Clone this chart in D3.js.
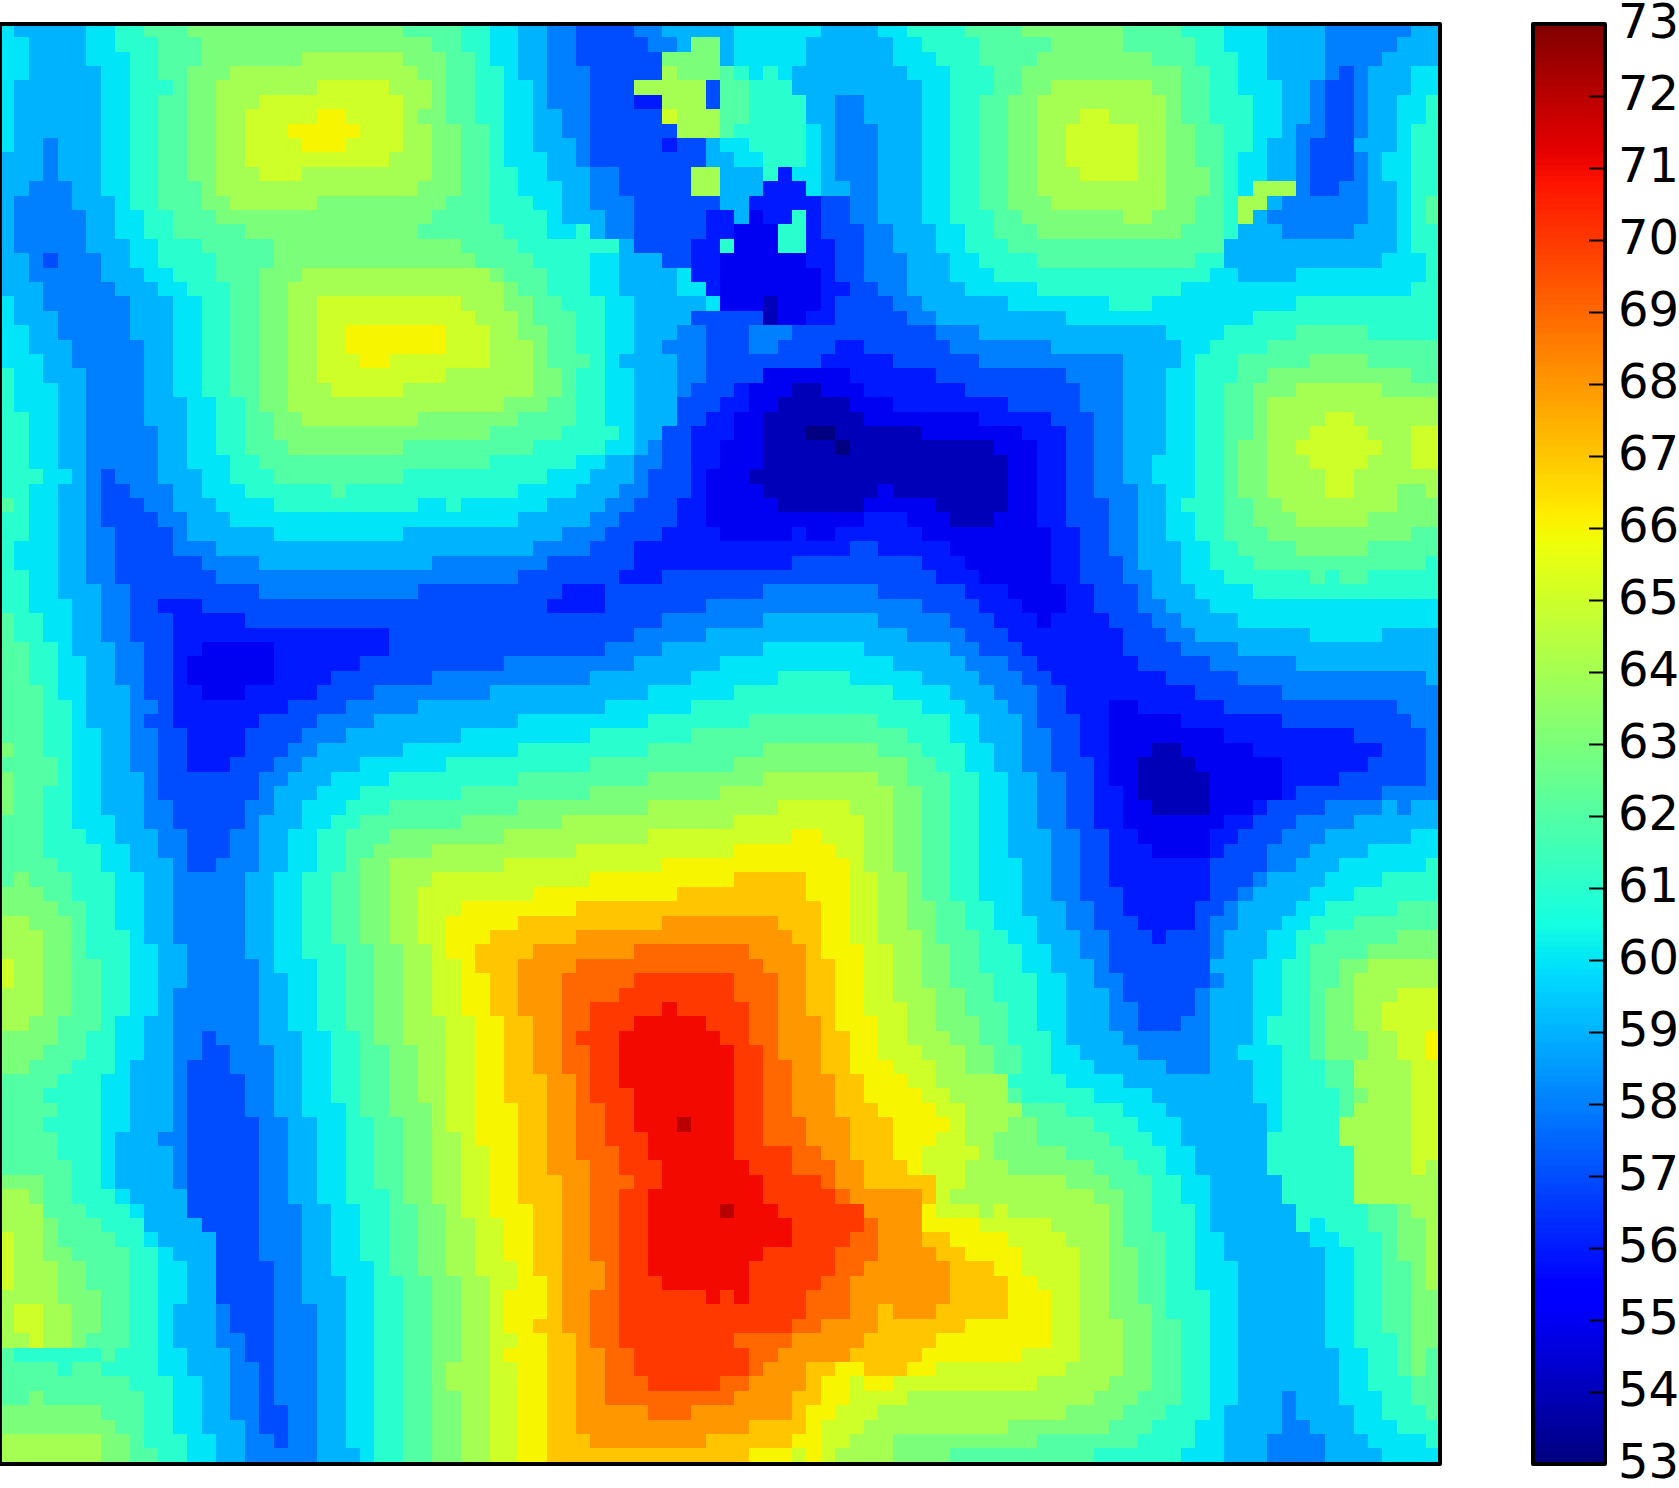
<!DOCTYPE html>
<html>
<head>
<meta charset="utf-8">
<script src="https://cdn.jsdelivr.net/npm/d3@7"></script>
<style>
  html, body { margin: 0; padding: 0; background: #fff; overflow: hidden; }
  svg { display: block; }
  .tick text { font-family: "DejaVu Sans"; font-size: 48px; fill: #000; }
</style>
</head>
<body>
<div id="chart"></div>
<script>
// grid values, one row per line: value, column where the run stops, value, column...
const rowRuns = [
[60,1,59,6,60,8,61,10,62,13,63,28,62,32,61,33,61,34,60,36,59,38,58,40,57,44,58,46,59,51,60,57,59,61,60,63,61,66,61,67,62,71,63,78,62,82,61,85,60,88,59,92,58,98,59,100],
[60,2,59,6,60,8,61,11,62,14,63,30,62,32,61,33,61,34,60,36,59,38,58,40,57,45,58,47,59,48,63,50,59,51,60,56,59,62,60,64,61,66,61,68,62,73,63,78,62,83,61,85,60,88,59,92,58,97,59,100],
[60,2,59,6,60,9,61,11,62,14,63,21,64,28,63,31,62,33,61,34,60,36,59,38,58,40,57,46,63,50,59,51,60,56,59,62,60,65,61,66,61,68,62,72,63,80,62,83,61,86,60,88,59,92,58,96,59,100],
[60,2,59,7,60,9,61,11,62,13,63,16,64,29,63,31,62,33,61,35,60,36,59,38,58,41,57,46,64,47,63,50,62,51,61,52,60,53,61,54,60,55,59,63,60,66,61,69,62,71,63,82,62,84,61,86,60,88,59,92,58,93,57,94,58,95,59,98,60,100],
[60,1,59,7,60,9,61,12,62,13,63,15,64,22,65,27,64,30,63,31,62,33,61,35,60,37,59,38,58,41,57,44,64,49,57,50,62,52,61,55,59,64,60,66,61,69,62,71,63,73,64,80,63,82,62,84,61,86,60,89,59,91,58,92,57,94,58,95,59,98,60,100],
[60,1,59,7,60,9,61,11,62,13,63,15,64,18,65,28,64,30,63,31,62,33,61,35,60,37,59,38,58,41,57,44,56,46,64,49,57,50,62,52,61,56,59,58,58,60,59,64,60,66,61,68,62,70,63,72,64,81,63,82,62,84,61,87,60,89,59,91,58,92,57,94,58,95,59,97,60,99,61,100],
[60,1,59,7,60,9,61,11,62,13,63,15,64,17,65,22,66,24,65,28,64,29,63,31,62,33,61,35,60,37,59,39,58,41,57,46,65,47,64,50,62,52,61,56,59,58,58,60,59,64,60,66,61,68,62,70,63,72,64,75,65,77,64,81,63,82,62,84,61,87,60,89,59,91,58,92,57,94,58,95,59,97,60,99,61,100],
[60,1,59,7,60,9,61,11,62,13,63,15,64,17,65,20,66,25,65,28,64,30,63,32,62,33,62,34,61,35,60,37,59,39,58,41,57,47,64,50,62,51,61,56,60,57,59,58,58,61,59,64,60,66,61,68,62,70,63,72,64,74,65,79,64,81,63,83,62,85,61,87,60,89,59,90,58,92,57,94,58,95,59,97,60,98,61,100],
[60,1,59,3,58,4,59,7,60,9,61,11,62,13,63,15,64,17,65,21,66,24,65,28,64,30,63,32,62,33,62,34,61,35,60,37,59,40,58,41,57,46,56,47,57,49,59,50,60,52,61,56,60,57,59,58,58,61,59,64,60,66,61,68,62,70,63,72,64,74,65,79,64,81,63,83,62,85,61,87,60,88,59,90,58,91,57,94,59,97,60,98,61,100],
[59,3,58,4,59,7,60,9,61,11,62,13,63,15,64,17,65,27,64,30,63,32,62,33,62,34,61,35,60,38,59,40,58,41,57,49,59,51,60,53,61,56,60,57,59,58,58,61,59,64,60,66,61,68,62,70,63,72,64,74,65,79,64,81,63,83,62,85,61,86,60,88,59,90,58,91,57,94,58,95,59,96,60,98,61,100],
[59,3,58,4,59,7,60,9,61,11,62,13,63,15,64,18,65,21,64,30,63,32,62,33,62,34,61,36,60,38,59,41,58,43,57,48,64,50,59,53,61,54,56,55,60,57,59,58,58,61,59,64,60,66,61,68,62,70,63,72,64,75,65,79,64,81,63,84,62,85,61,86,60,88,59,90,58,91,57,94,58,95,59,96,60,98,61,100],
[59,2,58,5,59,7,60,9,61,11,62,14,63,15,64,29,63,32,62,33,62,34,61,36,60,39,59,41,58,43,57,48,64,50,59,53,56,56,60,57,59,59,58,61,59,64,60,66,61,68,62,70,63,72,64,81,63,84,62,85,61,86,60,87,64,90,58,91,57,93,58,95,59,97,60,98,61,100],
[59,1,58,5,59,8,60,9,61,11,62,14,63,16,64,22,63,31,62,33,62,34,61,37,60,39,59,41,58,44,57,50,59,52,56,57,57,59,58,61,59,64,60,66,61,68,62,70,63,73,64,81,63,83,62,85,61,86,64,88,59,89,58,95,59,97,60,98,61,99,62,100],
[59,1,58,6,59,8,60,10,61,12,62,15,63,30,62,33,62,34,61,38,60,39,59,42,58,44,57,49,56,51,59,52,55,53,56,55,61,56,56,57,57,59,58,61,59,64,60,66,61,69,62,71,63,78,64,80,63,83,62,85,61,86,64,87,59,88,58,95,59,97,60,98,61,99,62,100],
[59,1,58,6,59,8,60,10,61,12,62,17,63,29,62,33,62,35,61,38,60,40,61,41,59,42,58,44,57,49,56,51,55,54,61,56,56,57,57,60,58,62,59,65,60,66,60,67,61,69,62,72,63,82,62,85,61,86,59,89,58,94,59,97,60,98,61,100],
[59,1,58,6,59,9,60,11,61,14,62,19,63,32,62,33,62,36,61,43,59,44,57,48,56,50,61,51,55,54,61,56,56,58,57,60,58,62,59,65,60,66,60,67,61,70,62,85,59,97,60,98,61,100],
[59,2,58,3,57,4,58,7,59,9,60,11,61,15,62,19,63,33,62,37,61,41,60,43,59,46,57,48,56,50,55,56,56,58,57,60,58,63,59,66,60,68,61,72,62,83,61,85,59,96,60,99,61,100],
[59,2,58,7,59,10,60,12,61,15,62,18,63,21,64,33,64,34,63,35,62,38,61,41,60,43,59,47,60,48,56,50,55,57,56,58,57,60,58,63,59,66,60,69,61,84,60,86,59,90,60,99,61,100],
[59,3,58,8,59,11,60,13,61,16,62,18,63,20,64,33,64,35,63,36,62,38,61,41,60,43,59,47,60,49,56,50,55,57,56,59,57,61,58,63,59,66,59,67,60,72,61,82,60,98,61,100],
[60,1,59,3,58,9,59,12,60,14,61,16,62,18,63,20,64,22,65,32,64,33,64,35,63,37,62,39,61,42,60,44,59,49,60,50,55,53,54,54,55,57,56,58,57,62,58,64,59,66,59,70,60,77,61,80,60,90,61,100],
[60,1,59,4,58,9,59,12,60,14,61,16,62,18,63,20,64,22,65,33,64,36,63,37,62,40,61,42,60,44,59,48,57,53,54,54,55,56,56,58,57,63,58,65,59,66,59,74,60,87,61,100],
[60,2,59,4,58,9,59,12,60,14,61,16,62,18,63,20,64,22,65,24,66,31,65,33,65,34,64,36,63,38,62,40,61,42,60,44,59,47,58,49,57,52,58,55,57,65,58,66,58,68,59,81,60,85,61,90,62,95,61,100],
[60,2,59,5,58,10,59,12,60,14,61,16,62,18,63,20,64,22,65,24,66,31,65,33,65,34,64,37,63,38,62,40,61,42,60,44,59,46,58,49,57,52,58,54,57,58,56,60,57,66,58,73,59,82,60,84,61,88,62,100],
[60,3,59,5,58,10,59,12,60,14,61,16,62,18,63,20,64,22,65,25,66,27,65,33,65,34,64,37,63,38,62,41,61,42,60,43,59,47,58,49,57,57,56,62,57,66,57,68,58,78,59,82,60,83,61,86,62,91,63,95,62,100],
[61,1,60,3,59,6,58,10,59,12,60,14,61,16,62,18,63,20,64,22,65,31,64,33,64,37,63,39,62,40,61,42,60,44,59,47,58,49,57,53,55,59,56,65,57,66,57,74,58,78,59,81,60,83,61,86,62,88,63,98,62,100],
[61,1,60,4,59,6,58,10,59,12,60,14,61,16,62,18,63,20,64,23,65,28,64,33,64,37,63,39,62,40,61,42,60,44,59,47,58,48,57,51,56,52,55,55,54,57,55,60,56,66,56,67,57,75,58,78,59,81,60,83,61,85,62,87,63,90,64,96,63,100],
[61,1,60,4,59,6,58,10,59,13,60,15,61,17,62,18,63,20,64,33,64,35,63,38,62,40,61,42,60,44,59,47,57,50,56,52,55,54,54,59,55,62,56,66,56,70,57,75,58,78,59,81,60,83,61,85,62,87,63,88,64,100],
[61,2,60,4,59,6,58,10,59,13,60,15,61,17,62,19,63,21,64,29,63,33,63,36,62,40,61,42,60,44,59,47,57,49,56,51,55,53,54,60,55,66,55,68,56,73,57,76,58,78,59,81,60,83,61,85,62,87,63,88,64,92,65,94,64,100],
[61,2,60,4,59,6,58,11,59,13,60,15,61,17,62,19,63,33,63,34,62,39,61,43,60,44,59,46,57,48,56,51,55,53,54,56,53,58,54,64,55,66,55,71,56,74,57,76,58,78,59,81,60,83,61,85,62,87,63,88,64,91,65,95,64,98,65,100],
[61,2,60,4,59,6,58,11,59,13,60,15,61,17,62,20,63,28,62,33,62,37,61,42,60,44,59,45,58,46,57,48,56,50,55,53,54,58,53,59,54,66,54,69,55,72,56,74,57,76,58,78,59,81,60,83,61,85,62,86,63,88,64,90,65,96,64,98,65,100],
[61,2,60,4,59,6,58,11,59,13,60,16,61,18,62,33,62,34,61,40,60,42,59,44,58,46,57,48,56,50,55,53,54,66,54,70,55,72,56,74,57,76,58,78,59,80,60,83,61,85,62,86,63,88,64,91,65,95,64,98,65,100],
[61,3,60,5,59,6,58,7,57,8,58,11,59,14,60,16,61,19,62,28,61,33,61,38,60,41,59,44,58,45,57,48,56,49,55,52,54,66,54,70,55,72,56,74,57,76,58,78,59,80,60,83,61,85,62,86,63,88,64,92,65,94,64,100],
[61,2,60,4,59,6,58,7,57,9,58,12,59,14,60,17,61,23,62,24,61,33,61,36,60,40,59,43,58,45,57,48,56,49,55,53,54,61,55,62,54,66,54,70,55,72,56,74,57,76,58,79,59,81,60,83,61,85,62,86,63,88,64,92,65,94,64,97,63,99,64,100],
[62,1,61,2,60,4,59,6,58,7,57,10,58,12,59,15,60,19,61,29,60,31,61,32,60,33,60,38,59,42,58,44,57,47,56,49,55,54,54,60,55,65,54,66,54,70,55,72,56,74,57,77,58,79,59,81,60,82,61,85,62,87,63,89,64,97,63,100],
[61,2,60,4,59,6,58,7,57,11,58,13,59,16,60,33,60,36,59,41,58,43,57,47,56,49,55,60,56,63,55,66,54,69,55,72,56,74,57,77,58,79,59,81,60,83,61,85,62,87,63,90,64,95,63,100],
[61,2,60,4,59,6,58,8,57,12,58,13,59,19,60,28,59,33,59,39,58,42,57,46,56,50,55,55,56,56,55,58,56,64,55,66,55,73,56,75,57,77,58,79,59,81,60,83,61,85,62,88,63,98,62,100],
[61,1,60,4,59,6,58,8,57,12,58,15,59,33,59,37,58,41,57,44,56,59,57,61,56,66,55,73,56,75,57,77,58,79,59,82,60,84,61,86,62,90,63,95,62,100],
[61,1,60,4,59,6,58,8,57,14,58,18,59,30,58,33,58,38,57,44,56,55,57,64,56,66,56,67,55,73,56,75,57,78,58,79,59,82,60,84,61,87,62,99,61,100],
[61,2,60,4,59,6,58,8,57,15,58,33,58,36,57,43,56,46,57,65,56,66,56,68,55,73,56,75,57,78,58,80,59,82,60,85,61,91,62,92,61,93,62,95,61,100],
[61,2,60,4,59,7,58,9,57,18,58,29,57,33,57,39,56,42,57,53,58,61,57,66,57,67,56,70,55,74,56,76,57,79,58,80,59,83,60,87,61,100],
[61,2,60,5,59,7,58,9,57,11,56,14,57,33,57,38,56,42,57,49,58,64,57,66,57,68,56,71,55,74,56,76,57,79,58,81,59,84,60,100],
[62,1,61,3,60,5,59,7,58,9,57,12,56,17,57,33,57,46,58,53,59,61,58,66,57,69,56,72,55,73,56,77,57,80,58,82,59,86,60,100],
[62,1,61,3,60,5,59,7,58,9,57,12,56,27,57,33,57,44,58,49,59,63,58,66,58,67,57,70,56,78,57,81,58,83,59,91,60,96,59,100],
[62,2,61,4,60,5,59,8,58,10,57,12,56,14,55,19,56,27,57,33,57,42,58,46,59,53,60,60,59,66,58,68,57,71,56,78,57,82,58,86,59,100],
[62,2,61,4,60,6,59,8,58,10,57,12,56,13,55,19,56,25,57,33,57,35,58,44,59,50,60,62,59,66,59,67,58,70,57,72,56,79,57,84,58,90,59,100],
[62,2,61,4,60,6,59,8,58,10,57,12,56,13,55,19,56,23,57,30,58,33,58,41,59,48,60,54,61,59,60,64,59,66,59,68,58,71,57,73,56,81,57,86,58,99,59,100],
[62,3,61,4,60,6,59,9,58,10,57,12,56,14,55,17,56,22,57,26,58,33,58,34,59,45,60,51,61,62,60,66,59,69,58,72,57,74,56,83,57,89,58,100],
[62,3,61,5,60,6,59,9,58,11,57,12,56,20,57,24,58,29,59,33,59,42,60,48,61,64,60,66,60,67,59,70,58,72,57,74,56,77,55,79,56,85,57,97,58,100],
[62,3,61,5,60,6,59,9,58,10,57,12,56,18,57,22,58,26,59,33,59,36,60,45,61,52,62,61,61,66,60,68,59,71,58,72,57,75,56,77,55,82,56,89,57,98,58,100],
[62,3,61,5,60,7,59,9,58,11,57,13,56,17,57,21,58,24,59,32,60,33,60,41,61,48,62,63,61,66,60,68,59,71,58,73,57,75,56,77,55,85,56,94,57,99,58,100],
[63,1,62,3,61,5,60,7,59,9,58,11,57,13,56,17,57,20,58,22,59,28,60,33,60,36,61,45,62,53,63,61,62,64,61,66,61,67,60,69,59,71,58,73,57,75,56,77,55,80,54,82,55,87,56,96,57,99,58,100],
[62,4,61,5,60,7,59,9,58,11,57,13,56,16,57,19,58,21,59,25,60,31,61,33,61,41,62,51,63,63,62,65,61,66,61,67,60,69,59,71,58,73,57,76,56,77,55,79,54,83,55,89,56,95,57,99,58,100],
[63,1,62,4,61,5,60,7,59,10,58,11,57,18,58,20,59,23,60,27,61,33,61,36,62,45,63,53,64,61,63,63,62,66,61,68,60,70,59,72,58,74,57,76,56,77,55,79,54,84,55,89,56,93,57,99,58,100],
[63,1,62,3,61,5,60,7,59,10,58,11,57,18,58,19,59,22,60,25,61,32,62,33,62,41,63,50,64,62,63,64,62,66,61,68,60,70,59,72,58,74,57,76,56,78,55,79,54,84,55,89,56,90,57,96,58,100],
[63,1,62,3,61,5,60,7,59,10,58,12,57,17,58,19,59,21,60,24,61,27,62,33,62,36,63,45,64,54,65,59,64,62,63,64,62,66,61,68,60,70,59,72,58,74,57,76,56,78,55,80,54,84,55,87,56,88,57,92,58,96,59,97,58,98,59,100],
[62,3,61,5,60,8,59,10,58,12,57,17,58,18,59,21,60,23,61,25,62,32,63,33,63,39,64,51,65,60,64,62,63,64,62,66,61,68,60,70,59,72,58,74,57,76,56,78,55,85,56,87,57,90,58,94,59,100],
[62,3,61,6,60,8,59,11,58,13,57,16,58,18,59,20,60,22,61,24,62,27,63,33,63,35,64,45,65,55,66,57,65,60,64,62,63,64,62,66,61,68,60,70,59,73,58,75,57,77,56,79,55,84,56,86,57,89,58,92,59,98,60,100],
[62,3,61,7,60,9,59,11,58,13,57,16,58,18,59,20,60,22,61,24,62,26,63,30,64,33,64,40,65,51,66,58,65,60,64,62,63,64,62,66,61,68,60,70,59,73,58,75,57,77,56,80,55,84,56,85,57,88,58,91,59,95,60,100],
[62,4,61,7,60,9,59,12,58,13,57,15,58,18,59,20,60,22,61,24,62,25,63,27,64,33,64,35,65,46,66,59,65,60,64,62,63,64,62,66,61,68,60,71,59,73,58,75,57,77,56,84,57,88,58,90,59,93,60,99,61,100],
[62,1,63,2,62,5,61,8,60,10,59,12,58,17,59,19,60,21,61,23,62,25,63,27,64,30,65,33,65,41,66,51,67,56,66,59,65,61,64,63,63,64,62,66,61,68,60,71,59,73,58,75,57,77,56,84,57,87,58,88,59,92,60,96,61,100],
[63,3,62,5,61,8,60,10,59,12,58,17,59,19,60,21,61,23,62,25,63,27,64,29,65,33,65,37,66,47,67,56,66,59,65,61,64,63,63,64,62,66,61,68,60,71,59,73,58,75,57,78,56,84,57,86,58,87,59,91,60,94,61,100],
[63,4,62,6,61,8,60,10,59,12,58,17,59,19,60,21,61,23,62,25,63,27,64,29,65,32,66,33,66,40,67,57,66,59,65,61,64,63,63,65,62,66,62,67,61,69,60,71,59,74,58,76,57,78,56,83,57,85,58,86,59,90,60,92,61,97,62,100],
[64,2,63,5,62,6,61,8,60,10,59,12,58,17,59,19,60,21,61,23,62,25,63,27,64,29,65,31,66,33,66,36,67,46,68,54,67,57,66,59,65,61,64,63,63,65,62,66,62,67,61,69,60,72,59,74,58,76,57,79,56,83,57,84,58,86,59,89,60,91,61,94,62,100],
[64,3,63,5,62,6,61,9,60,10,59,12,58,17,59,19,60,21,61,23,62,25,63,27,64,29,65,31,66,33,66,34,67,40,68,55,67,57,66,59,65,61,64,64,63,65,62,66,62,68,61,70,60,72,59,75,58,77,57,80,56,81,57,84,58,85,59,88,60,90,61,92,62,97,63,100],
[64,3,63,5,62,6,61,9,60,11,59,13,58,17,59,19,60,21,61,24,62,26,63,28,64,30,65,31,66,33,67,37,68,44,69,52,68,56,67,57,66,60,65,62,64,64,63,66,62,68,61,71,60,73,59,75,58,77,57,84,58,85,59,88,60,90,61,91,62,95,63,100],
[65,1,64,3,63,5,62,7,61,9,60,11,59,13,58,18,59,19,60,22,61,24,62,26,63,28,64,30,65,32,66,33,67,36,68,40,69,53,68,56,67,58,66,60,65,62,64,64,63,66,62,68,61,71,60,73,59,76,58,77,57,84,59,87,60,89,61,91,62,93,63,95,64,100],
[65,1,64,3,63,5,62,7,61,9,60,11,59,13,58,18,59,20,60,22,61,24,62,26,63,28,64,30,65,32,66,33,66,34,67,36,68,39,69,44,70,51,69,54,68,56,67,58,66,60,65,62,64,64,63,66,62,69,61,72,60,74,59,76,58,78,57,84,58,85,59,87,60,89,61,91,62,93,63,94,64,100],
[64,3,63,5,62,7,61,9,60,11,59,12,58,18,59,20,60,22,61,24,62,26,63,28,64,30,65,32,66,33,66,34,67,36,68,39,69,43,70,51,69,54,68,56,67,58,66,60,65,62,64,65,63,66,63,67,62,69,61,72,60,74,59,77,58,78,57,83,58,84,59,87,60,89,61,91,62,92,63,94,64,97,65,100],
[64,3,63,5,62,7,61,9,60,11,59,12,58,18,59,20,60,22,61,24,62,26,63,28,64,30,65,32,66,33,66,34,67,36,68,39,69,41,70,46,71,47,70,52,69,54,68,56,67,58,66,60,65,63,64,65,63,67,62,70,61,72,60,74,59,77,58,79,57,83,58,84,59,87,60,89,61,91,62,92,63,94,64,96,65,100],
[64,2,63,4,62,7,61,8,60,10,59,12,58,18,59,20,60,22,61,24,62,26,63,28,64,31,65,33,66,35,67,37,68,39,69,41,70,44,71,49,70,52,69,54,68,57,67,58,66,61,65,63,64,65,63,66,63,68,62,70,61,72,60,74,59,77,58,79,57,82,58,84,59,87,60,88,61,91,62,92,63,94,64,96,65,100],
[63,4,62,6,61,8,60,10,59,12,58,14,57,15,58,18,59,21,60,23,61,25,62,26,63,28,64,31,65,33,66,35,67,37,68,39,69,40,70,43,71,50,70,52,69,54,68,57,67,59,66,61,65,63,64,66,63,68,62,70,61,73,60,74,59,78,58,84,59,87,60,88,61,91,62,92,63,95,64,97,65,99,66,100],
[63,3,62,6,61,8,60,10,59,12,58,14,57,16,58,19,59,21,60,23,61,25,62,27,63,29,64,31,65,33,66,35,67,37,68,39,69,41,70,43,71,51,70,53,69,54,68,57,67,59,66,61,65,64,64,66,64,67,63,69,62,71,61,73,60,75,59,79,58,84,59,86,60,89,61,91,62,92,63,95,64,97,65,99,66,100],
[63,2,62,5,61,8,60,9,59,12,58,13,57,16,58,19,59,21,60,23,61,25,62,27,63,29,64,31,65,33,66,35,67,37,68,39,69,41,70,43,71,51,70,53,69,55,68,57,67,59,66,62,65,65,64,66,64,67,63,69,62,71,61,73,60,76,59,81,58,84,59,87,60,89,61,92,62,94,64,98,65,100],
[62,4,61,7,60,9,59,12,58,13,57,17,58,19,59,21,60,23,61,25,62,27,63,29,64,31,65,33,66,35,67,38,68,40,69,41,70,43,71,51,70,53,69,55,68,58,67,60,66,63,65,65,64,66,64,70,61,74,60,78,59,87,60,89,61,92,62,94,64,98,65,100],
[62,3,61,7,60,9,59,12,58,13,57,17,58,19,59,21,60,23,61,25,62,27,63,29,64,31,65,33,66,35,67,38,68,40,69,41,70,44,71,51,70,53,69,55,68,58,67,60,66,64,65,66,64,70,62,71,61,76,60,80,59,87,60,89,61,93,62,94,63,95,64,98,65,100],
[62,4,61,7,60,9,59,12,58,13,57,17,58,19,59,21,60,24,61,25,62,27,63,30,64,31,65,33,66,36,67,38,68,40,69,42,70,44,71,51,70,53,69,55,68,58,67,61,66,65,65,66,65,67,64,71,62,74,61,78,60,81,59,88,60,89,61,93,62,94,64,98,65,100],
[62,3,61,7,60,9,59,12,58,13,57,18,58,20,59,22,60,24,61,26,62,28,63,30,64,31,65,33,66,36,67,38,68,40,69,42,70,44,71,47,72,48,71,51,70,53,69,56,68,59,67,62,66,66,65,67,64,70,63,72,62,76,61,79,60,82,59,88,60,89,61,93,64,98,65,100],
[62,4,61,7,60,8,59,11,58,13,57,18,58,20,59,22,60,24,61,26,62,28,63,30,64,32,65,33,66,36,67,38,68,40,69,42,70,45,71,51,70,53,69,56,68,59,67,62,66,65,65,67,64,69,63,72,62,77,61,80,60,82,59,88,61,93,64,98,65,100],
[62,4,61,7,60,8,59,12,58,13,57,18,58,20,59,22,60,24,61,26,62,28,63,30,64,32,65,33,65,34,66,36,67,38,68,40,69,43,70,45,71,51,70,55,69,57,68,59,67,62,66,64,65,66,65,68,64,69,63,74,62,78,61,81,60,83,59,88,61,94,64,98,65,100],
[62,5,61,7,60,8,59,12,58,13,57,18,58,20,59,22,60,24,61,26,62,28,63,30,64,32,65,33,65,34,66,36,67,38,68,41,69,43,70,46,71,52,70,55,69,58,68,60,67,63,66,64,65,66,65,67,64,70,63,76,62,79,61,81,60,83,59,88,61,94,64,98,65,99,64,100],
[63,3,62,5,61,7,60,8,59,12,58,13,57,18,58,20,59,22,60,24,61,26,62,28,63,30,64,32,65,33,65,34,66,36,67,39,68,41,69,44,70,46,71,53,70,57,69,58,68,60,67,65,65,66,65,67,64,74,63,77,62,80,61,82,60,84,59,89,61,94,64,100],
[64,2,63,3,62,5,61,8,60,9,59,13,57,18,58,20,59,22,60,24,61,27,62,28,63,30,64,32,65,33,65,34,66,36,67,39,68,41,69,43,70,45,71,53,70,58,69,59,68,64,67,65,65,66,64,76,63,78,62,80,61,82,60,84,59,89,61,94,64,100],
[64,3,62,6,61,9,60,10,59,13,57,18,58,21,59,23,60,25,61,27,62,29,63,31,64,32,65,33,65,34,66,37,67,39,68,41,69,43,70,45,71,50,72,51,71,54,70,60,68,64,66,65,65,66,65,68,64,69,65,70,64,77,63,78,62,80,61,83,60,84,59,90,61,95,62,97,63,98,64,100],
[64,3,63,4,62,7,61,10,59,14,57,18,58,21,59,23,60,25,61,27,62,29,63,31,64,33,65,33,65,35,66,37,67,39,68,41,69,43,70,45,71,55,70,60,69,61,68,64,66,66,66,68,65,73,64,77,63,78,62,80,61,83,60,84,59,90,61,91,60,92,61,95,62,97,63,99,64,100],
[65,1,64,3,63,4,62,8,61,10,60,11,59,15,57,18,58,21,59,23,60,25,61,27,62,29,63,31,64,33,65,35,66,37,67,39,68,41,69,43,70,45,71,55,70,59,69,61,68,64,67,66,66,70,65,74,64,77,63,78,62,81,61,83,60,85,59,91,60,93,61,96,62,97,63,99,64,100],
[65,1,64,3,63,5,62,9,61,11,60,12,59,15,57,18,58,21,59,23,60,25,61,27,62,29,63,31,64,33,65,35,66,37,67,39,68,41,69,43,70,45,71,53,70,58,69,61,68,65,67,66,67,67,66,71,65,75,64,77,63,79,62,81,61,83,60,85,59,92,60,94,61,96,62,97,63,99,64,100],
[65,1,64,4,63,6,62,9,61,11,60,13,59,15,57,19,58,21,59,23,60,26,61,27,62,29,63,31,64,33,65,36,66,37,67,39,68,42,69,43,70,45,71,52,70,58,69,60,68,66,67,69,66,71,65,75,64,77,63,79,62,81,61,83,60,86,59,92,60,94,61,96,62,98,63,99,64,100],
[65,1,64,4,63,6,62,9,61,11,60,13,59,15,57,19,58,21,59,24,60,26,61,28,62,30,63,32,64,33,64,34,65,36,66,38,67,39,68,42,69,43,70,46,71,52,70,57,69,59,68,66,67,70,66,72,65,75,64,77,63,79,62,81,61,83,60,86,59,92,60,94,61,96,62,98,63,99,64,100],
[64,4,63,7,62,9,61,11,60,13,59,15,57,19,58,21,59,24,60,26,61,28,62,30,63,32,64,33,64,34,65,35,66,38,67,39,68,41,69,43,70,49,71,50,70,51,71,52,70,56,69,59,68,66,67,70,66,73,65,75,64,77,63,79,62,81,61,84,60,86,59,92,60,94,61,96,62,98,63,100],
[64,1,65,3,64,5,63,7,62,9,61,11,60,12,59,15,58,16,57,19,58,22,59,24,60,26,61,28,62,30,63,32,64,33,64,34,65,35,66,38,67,39,68,41,69,43,70,56,69,59,68,61,67,62,68,65,67,66,67,70,66,73,65,75,64,77,63,80,62,81,61,84,60,86,59,92,60,94,61,96,62,98,63,100],
[64,1,65,3,64,5,63,7,62,9,61,11,60,12,59,15,58,16,57,19,58,22,59,24,60,26,61,28,62,30,63,32,64,33,64,34,65,35,66,37,67,39,68,41,69,43,70,55,69,57,68,61,67,66,67,67,66,73,65,75,64,78,63,80,62,82,61,84,60,86,59,92,60,94,61,96,62,98,63,100],
[64,2,65,3,64,5,63,6,62,9,61,11,60,12,59,15,58,17,57,19,58,22,59,24,60,26,61,28,62,30,63,32,64,33,64,34,65,36,66,38,67,40,68,41,69,43,70,51,69,55,68,60,67,65,66,66,66,73,65,75,64,78,63,80,62,82,61,84,60,86,59,92,60,94,61,97,62,98,63,100],
[62,1,61,7,62,8,61,11,60,13,59,16,58,17,57,19,58,22,59,24,60,26,61,28,62,30,63,32,64,33,64,34,65,35,66,38,67,40,68,42,69,44,70,52,69,54,68,59,67,64,66,66,66,71,65,75,64,78,63,80,62,82,61,84,60,86,59,93,60,95,61,97,62,98,63,99,62,100],
[62,4,61,5,62,7,61,11,60,13,59,16,58,18,57,19,58,22,59,24,60,26,61,28,62,30,63,31,64,33,64,34,65,36,66,38,67,40,68,42,69,44,70,52,69,53,68,56,67,58,66,60,67,63,66,65,65,66,65,74,64,78,63,80,62,82,61,84,60,86,59,93,60,95,61,97,62,98,63,99,62,100],
[62,9,61,12,60,14,59,16,58,18,57,19,58,22,59,24,60,26,61,28,62,30,63,31,64,33,64,34,65,36,66,38,67,40,68,42,69,45,70,50,69,52,68,56,67,57,66,59,65,60,66,62,65,66,65,72,64,77,63,80,62,82,61,84,60,86,59,93,60,95,61,98,62,100],
[62,2,63,3,62,10,61,12,60,14,59,16,58,18,57,19,58,22,59,24,60,26,61,28,62,30,63,32,64,33,64,34,65,36,66,38,67,40,68,42,69,51,68,55,67,57,66,59,65,63,64,66,64,76,63,79,62,82,61,84,60,86,59,89,58,90,59,93,60,96,61,98,62,100],
[63,7,62,10,61,12,60,14,59,16,58,18,57,20,58,22,59,24,60,26,61,28,62,30,63,32,64,33,64,34,65,36,66,38,67,40,68,45,69,48,68,55,67,56,66,58,65,61,64,66,64,74,63,78,62,81,61,84,60,85,59,89,58,90,59,94,60,96,61,99,62,100],
[63,8,62,10,61,12,60,14,59,17,58,18,57,20,58,22,59,24,60,26,61,28,62,30,63,32,64,33,64,34,65,36,66,38,67,40,68,52,67,56,66,57,65,60,64,66,64,70,63,77,62,80,61,83,60,85,59,89,58,91,59,94,60,97,61,100],
[64,7,63,9,62,10,61,13,60,15,59,17,58,19,57,20,58,22,59,24,60,26,61,28,62,30,63,32,64,33,64,34,65,36,66,38,67,41,68,49,67,55,66,57,65,59,64,62,63,66,63,72,62,79,61,83,60,85,59,88,58,92,59,95,60,99,61,100],
[64,7,63,9,62,11,61,13,60,15,59,17,58,22,59,25,60,26,61,28,62,30,63,32,64,33,64,34,65,36,66,38,67,52,66,55,65,56,66,57,65,58,64,62,63,66,62,76,61,82,60,85,59,88,58,92,59,96,60,100]
];

const colorTicks = [53, 54, 55, 56, 57, 58, 59, 60, 61, 62, 63, 64, 65, 66, 67, 68, 69, 70, 71, 72, 73];

// jet colormap stops
const jetR = [[0, 0], [0.35, 0], [0.66, 1], [0.89, 1], [1, 0.5]];
const jetG = [[0, 0], [0.125, 0], [0.375, 1], [0.64, 1], [0.91, 0], [1, 0]];
const jetB = [[0, 0.5], [0.11, 1], [0.34, 1], [0.65, 0], [1, 0]];

function channel(stops) {
  return d3
    .scaleLinear()
    .domain(stops.map((d) => d[0]))
    .range(stops.map((d) => d[1]));
}

const r = channel(jetR),
  g = channel(jetG),
  b = channel(jetB);
const norm = d3.scaleLinear().domain([53, 73]).range([0, 1]);
const color = (v) => {
  const t = norm(v);
  return d3.rgb(r(t) * 255, g(t) * 255, b(t) * 255).toString();
};

// expand the runs to one entry per cell
const cells = [];
rowRuns.forEach((runs, row) => {
  let col = 0;
  for (let i = 0; i < runs.length; i += 2) {
    for (; col < runs[i + 1]; col++) {
      cells.push({ row: row, col: col, value: runs[i] });
    }
  }
});

const svg = d3
  .select("#chart")
  .append("svg")
  .attr("width", 1679)
  .attr("height", 1488);

const x = d3.scaleLinear().domain([0, 100]).range([0, 1440]);
const y = d3.scaleLinear().domain([0, 100]).range([22.8, 1462.8]);

svg
  .append("g")
  .attr("shape-rendering", "crispEdges")
  .selectAll("rect")
  .data(cells)
  .enter()
  .append("rect")
  .attr("x", (d) => Math.round(x(d.col)))
  .attr("y", (d) => Math.round(y(d.row)))
  .attr("width", (d) => Math.round(x(d.col + 1)) - Math.round(x(d.col)))
  .attr("height", (d) => Math.round(y(d.row + 1)) - Math.round(y(d.row)))
  .attr("fill", (d) => color(d.value));

svg
  .append("rect")
  .attr("x", 0)
  .attr("y", 24)
  .attr("width", 1440)
  .attr("height", 1440)
  .attr("fill", "none")
  .attr("stroke", "#000")
  .attr("stroke-width", 4)
  .attr("stroke-linejoin", "round");

// COLORBAR ----------------------------------------------
const barScale = d3.scaleLinear().domain([53, 73]).range([1464, 24]);
const barStep = 20 / 256;
const barSteps = d3.range(256).map((i) => 53 + i * barStep);

svg
  .append("g")
  .attr("shape-rendering", "crispEdges")
  .selectAll("rect")
  .data(barSteps)
  .enter()
  .append("rect")
  .attr("x", 1533)
  .attr("width", 72)
  .attr("y", (d) => Math.round(barScale(d + barStep)))
  .attr("height", (d) => Math.round(barScale(d)) - Math.round(barScale(d + barStep)))
  .attr("fill", (d) => color(d + barStep / 2));

const barAxis = d3
  .axisRight(barScale)
  .tickValues(colorTicks)
  .tickFormat(d3.format("d"))
  .tickSize(-16)
  .tickPadding(13);

const axisG = svg
  .append("g")
  .attr("transform", "translate(1605,0)")
  .call(barAxis);
axisG.select(".domain").remove();
axisG.selectAll(".tick line").attr("stroke", "#000").attr("stroke-width", 2);
axisG.selectAll(".tick text").attr("dy", "0.29em");

svg
  .append("rect")
  .attr("x", 1533)
  .attr("y", 24)
  .attr("width", 72)
  .attr("height", 1440)
  .attr("fill", "none")
  .attr("stroke", "#000")
  .attr("stroke-width", 4)
  .attr("stroke-linejoin", "round");
</script>
</body>
</html>
